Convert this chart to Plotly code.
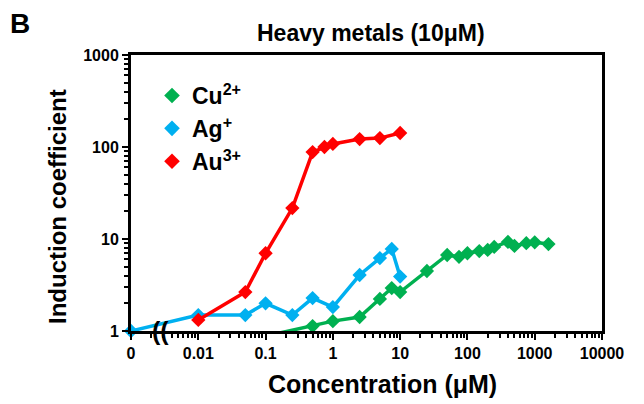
import plotly.graph_objects as go

# Concentrations (µM) and induction coefficients per metal ion
cu_conc = [0.1, 0.5, 1, 2.5, 5, 7.5, 10, 25, 50, 75, 100, 150, 200, 250, 400, 500, 750, 1000, 1600]
cu_vals = [0.88, 1.13, 1.28, 1.42, 2.23, 2.93, 2.65, 4.49, 6.7, 6.4, 7.0, 7.4, 7.6, 8.2, 9.3, 8.4, 9.0, 9.2, 8.8]

ag_conc = [0, 0.01, 0.05, 0.1, 0.25, 0.5, 1, 2.5, 5, 7.5, 10]
ag_vals = [1.0, 1.49, 1.49, 2.0, 1.49, 2.28, 1.82, 4.06, 6.2, 7.8, 3.9]

au_conc = [0.01, 0.05, 0.1, 0.25, 0.5, 0.75, 1, 2.5, 5, 10]
au_vals = [1.32, 2.65, 7.0, 21.7, 88, 100, 108, 122, 125, 142]

x_tick_vals = [0.001, 0.01, 0.1, 1, 10, 100, 1000, 10000]
x_tick_text = ["0", "0.01", "0.1", "1", "10", "100", "1000", "10000"]
y_tick_vals = [1, 10, 100, 1000]
y_tick_text = ["1", "10", "100", "1000"]

ZERO_POS = 0.001  # where the untreated control (0 µM) sits on the log axis

series = [
    ("Cu<sup>2+</sup>", cu_conc, cu_vals, "#00B050", True),
    ("Ag<sup>+</sup>", ag_conc, ag_vals, "#00B0F0", False),
    ("Au<sup>3+</sup>", au_conc, au_vals, "#FF0000", True),
]

FONT = "Liberation Sans, Arial, sans-serif"

fig = go.Figure()
for name, conc, vals, color, clip in series:
    xs = [c if c > 0 else ZERO_POS for c in conc]
    fig.add_trace(go.Scatter(
        x=xs, y=vals, mode="lines+markers", name=name, showlegend=False,
        line=dict(color=color, width=3.5),
        marker=dict(symbol="diamond", size=11, color=color),
        cliponaxis=clip,
    ))
# marker-only legend keys
for name, conc, vals, color, clip in series:
    fig.add_trace(go.Scatter(
        x=[None], y=[None], mode="markers", name=name,
        marker=dict(symbol="diamond", size=12, color=color),
    ))

x_minor = [m * 10 ** e for e in range(-3, 4) for m in range(2, 10)]
y_minor = [m * 10 ** e for e in range(0, 3) for m in range(2, 10)]

axis_common = dict(
    showline=True, linecolor="black", linewidth=3, mirror=True,
    ticks="outside", ticklen=6, tickwidth=2, tickcolor="black",
    showgrid=False, zeroline=False,
    tickfont=dict(family=FONT, size=16, color="black", weight="bold"),
    tickmode="array",
)

fig.update_xaxes(
    type="log", range=[-3.0, 4.0],
    tickvals=x_tick_vals, ticktext=x_tick_text,
    minor=dict(tickmode="array", tickvals=x_minor, ticks="outside", ticklen=4,
               tickwidth=2, tickcolor="black", showgrid=False),
    **axis_common,
)
fig.update_yaxes(
    type="log", range=[0, 3],
    tickvals=y_tick_vals, ticktext=y_tick_text,
    minor=dict(tickmode="array", tickvals=y_minor, ticks="outside", ticklen=4,
               tickwidth=2, tickcolor="black", showgrid=False),
    **axis_common,
)

W, H = 644, 404
L, R, T, B = 131, 42, 55, 73
pw, ph = W - L - R, H - T - B


def px_x(p):
    return (p - L) / pw


def px_y(p):
    return (H - B - p) / ph


annotations = [
    dict(text="<b>B</b>", x=px_x(8), y=px_y(6), xanchor="left", yanchor="top",
         font=dict(family=FONT, size=28, color="black")),
    dict(text="<b>Heavy metals (10μM)</b>", x=px_x(371), y=px_y(33),
         xanchor="center", yanchor="middle",
         font=dict(family=FONT, size=23, color="black")),
    dict(text="<b>Concentration (μM)</b>", x=px_x(382), y=px_y(384),
         xanchor="center", yanchor="middle",
         font=dict(family=FONT, size=25, color="black")),
    dict(text="<b>Induction coefficient</b>", x=px_x(57), y=px_y(207),
         xanchor="center", yanchor="middle", textangle=-90,
         font=dict(family=FONT, size=24, color="black")),
    # axis break mark between 0 and 0.01
    dict(text="<b>((</b>", x=px_x(160), y=px_y(331), xanchor="center", yanchor="middle",
         font=dict(family=FONT, size=25, color="black")),
]
for a in annotations:
    a.update(xref="paper", yref="paper", showarrow=False)

fig.update_layout(
    width=W, height=H,
    margin=dict(l=L, r=R, t=T, b=B),
    paper_bgcolor="white", plot_bgcolor="white",
    annotations=annotations,
    legend=dict(
        x=px_x(152), y=px_y(74), xanchor="left", yanchor="top",
        bgcolor="rgba(0,0,0,0)", itemwidth=30, tracegroupgap=0,
        font=dict(family=FONT, size=23, color="black", weight="bold"),
    ),
)

fig.write_html("out.html")
